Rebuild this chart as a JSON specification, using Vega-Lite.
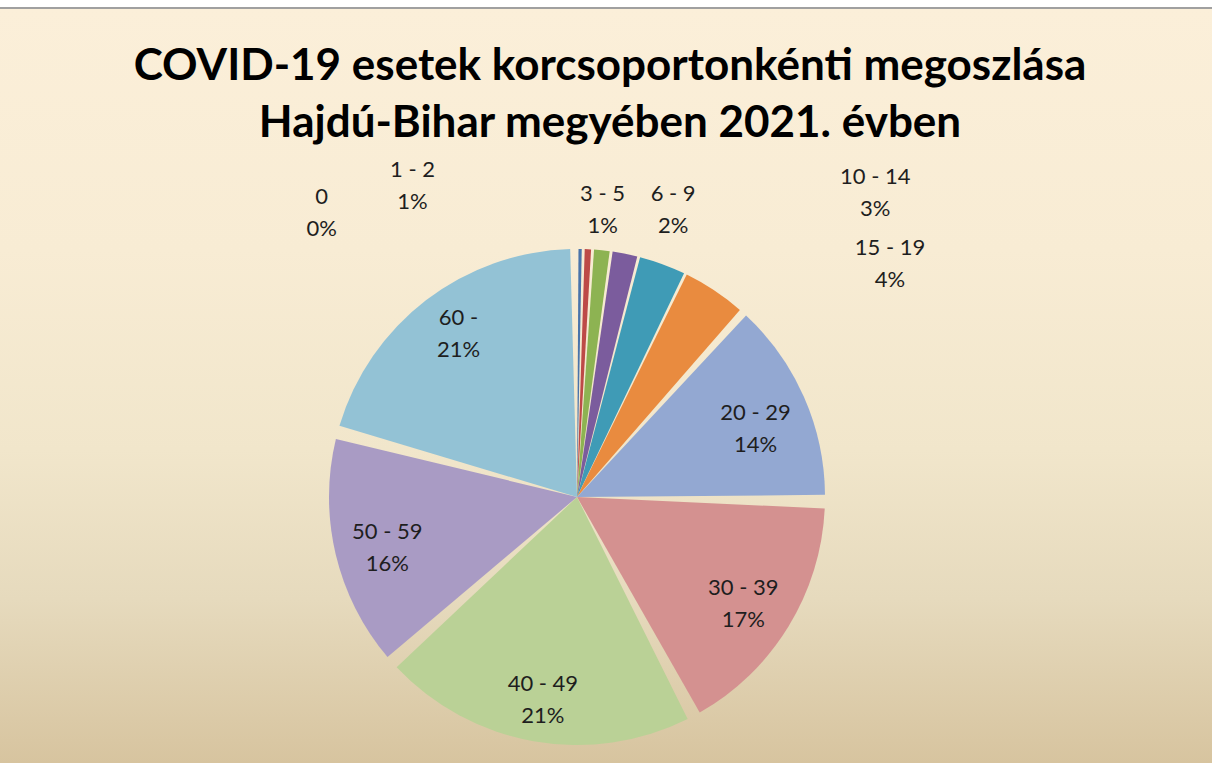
{
  "$schema": "https://vega.github.io/schema/vega-lite/v6.json",
  "width": 1212,
  "height": 763,
  "autosize": {"type": "fit", "contains": "padding"},
  "padding": {"left": -70, "right": -12, "top": 7, "bottom": -224},
  "background": "#ffffff",
  "title": {
    "text": ["COVID-19 esetek korcsoportonkénti megoszlása", "Hajdú-Bihar megyében 2021. évben"],
    "font": "Lato",
    "fontSize": 44,
    "fontWeight": "bold",
    "color": "#000000",
    "lineHeight": 57,
    "anchor": "middle",
    "frame": "group",
    "baseline": "top",
    "offset": -139,
    "dx": 33
  },
  "layer": [
    {
      "data": {"values": [{}]},
      "mark": {
        "type": "rect",
        "stroke": "#a0a0a0",
        "strokeWidth": 2,
        "fill": {
          "gradient": "linear", "x1": 0, "y1": 0, "x2": 0, "y2": 1,
          "stops": [
            {"offset": 0, "color": "#FBEFD9"},
            {"offset": 0.247, "color": "#F8ECD4"},
            {"offset": 0.452, "color": "#F1E6CB"},
            {"offset": 0.605, "color": "#E6DABD"},
            {"offset": 0.772, "color": "#D7C49F"},
            {"offset": 1, "color": "#C9B48D"}
          ]
        }
      },
      "encoding": {}
    },
    {
      "data": {
        "values": [
          {"idx": 1, "age": "0", "pct": 0.4},
          {"idx": 2, "age": "1 - 2", "pct": 0.6},
          {"idx": 3, "age": "3 - 5", "pct": 1.2},
          {"idx": 4, "age": "6 - 9", "pct": 1.8},
          {"idx": 5, "age": "10 - 14", "pct": 3.2},
          {"idx": 6, "age": "15 - 19", "pct": 4.3},
          {"idx": 7, "age": "20 - 29", "pct": 13.8},
          {"idx": 8, "age": "30 - 39", "pct": 16.9},
          {"idx": 9, "age": "40 - 49", "pct": 21.2},
          {"idx": 10, "age": "50 - 59", "pct": 15.8},
          {"idx": 11, "age": "60 -", "pct": 20.8}
        ]
      },
      "transform": [
        {"calculate": "datum.age + '\\n' + format(datum.pct / 100, '.0%')", "as": "label"}
      ],
      "encoding": {
        "theta": {"field": "pct", "type": "quantitative", "stack": true},
        "order": {"field": "idx", "type": "quantitative", "sort": "ascending"}
      },
      "layer": [
        {
          "mark": {"type": "arc", "radius": 248, "padAngle": {"expr": "datum.pct >= 10 ? 0.055 : 0.012"}},
          "encoding": {
            "color": {
              "field": "age",
              "type": "nominal",
              "legend": null,
              "scale": {
                "domain": ["0", "1 - 2", "3 - 5", "6 - 9", "10 - 14", "15 - 19", "20 - 29", "30 - 39", "40 - 49", "50 - 59", "60 -"],
                "range": ["#4A74AA", "#BD4A47", "#8DB352", "#7B5C9D", "#3F9BB6", "#E98B3F", "#93A8D2", "#D49190", "#BAD196", "#A99BC4", "#93C2D5"]
              }
            }
          }
        },
        {
          "mark": {
            "type": "text", "radius": 195, "font": "Lato", "fontSize": 22, "fill": "#1e1e1e", "lineBreak": "\n", "lineHeight": 32, "align": "center", "baseline": "middle",
            "dy": {"expr": "datum.age === '60 -' ? -24 : datum.age === '30 - 39' ? -11 : datum.age === '50 - 59' ? -10 : -5"}
          },
          "encoding": {
            "detail": {"field": "age", "type": "nominal"},
            "text": {"condition": {"test": "datum.pct >= 10", "field": "label", "type": "nominal"}, "value": ""}
          }
        },
        {
          "mark": {
            "type": "text", "radius": 285, "font": "Lato", "fontSize": 22, "fill": "#1e1e1e", "lineBreak": "\n", "lineHeight": 32, "align": "center", "baseline": "middle",
            "dx": {"expr": "datum.age === '0' ? -259 : datum.age === '1 - 2' ? -177 : datum.age === '3 - 5' ? -3 : datum.age === '6 - 9' ? 41 : datum.age === '10 - 14' ? 200 : datum.age === '15 - 19' ? 155 : 0"},
            "dy": {"expr": "datum.age === '0' ? -15 : datum.age === '1 - 2' ? -42 : datum.age === '3 - 5' ? -19 : datum.age === '6 - 9' ? -23 : datum.age === '10 - 14' ? -52 : datum.age === '15 - 19' ? -12 : 0"}
          },
          "encoding": {
            "detail": {"field": "age", "type": "nominal"},
            "text": {"condition": {"test": "datum.pct < 10", "field": "label", "type": "nominal"}, "value": ""}
          }
        }
      ]
    }
  ],
  "config": {
    "view": {"stroke": null}
  }
}
